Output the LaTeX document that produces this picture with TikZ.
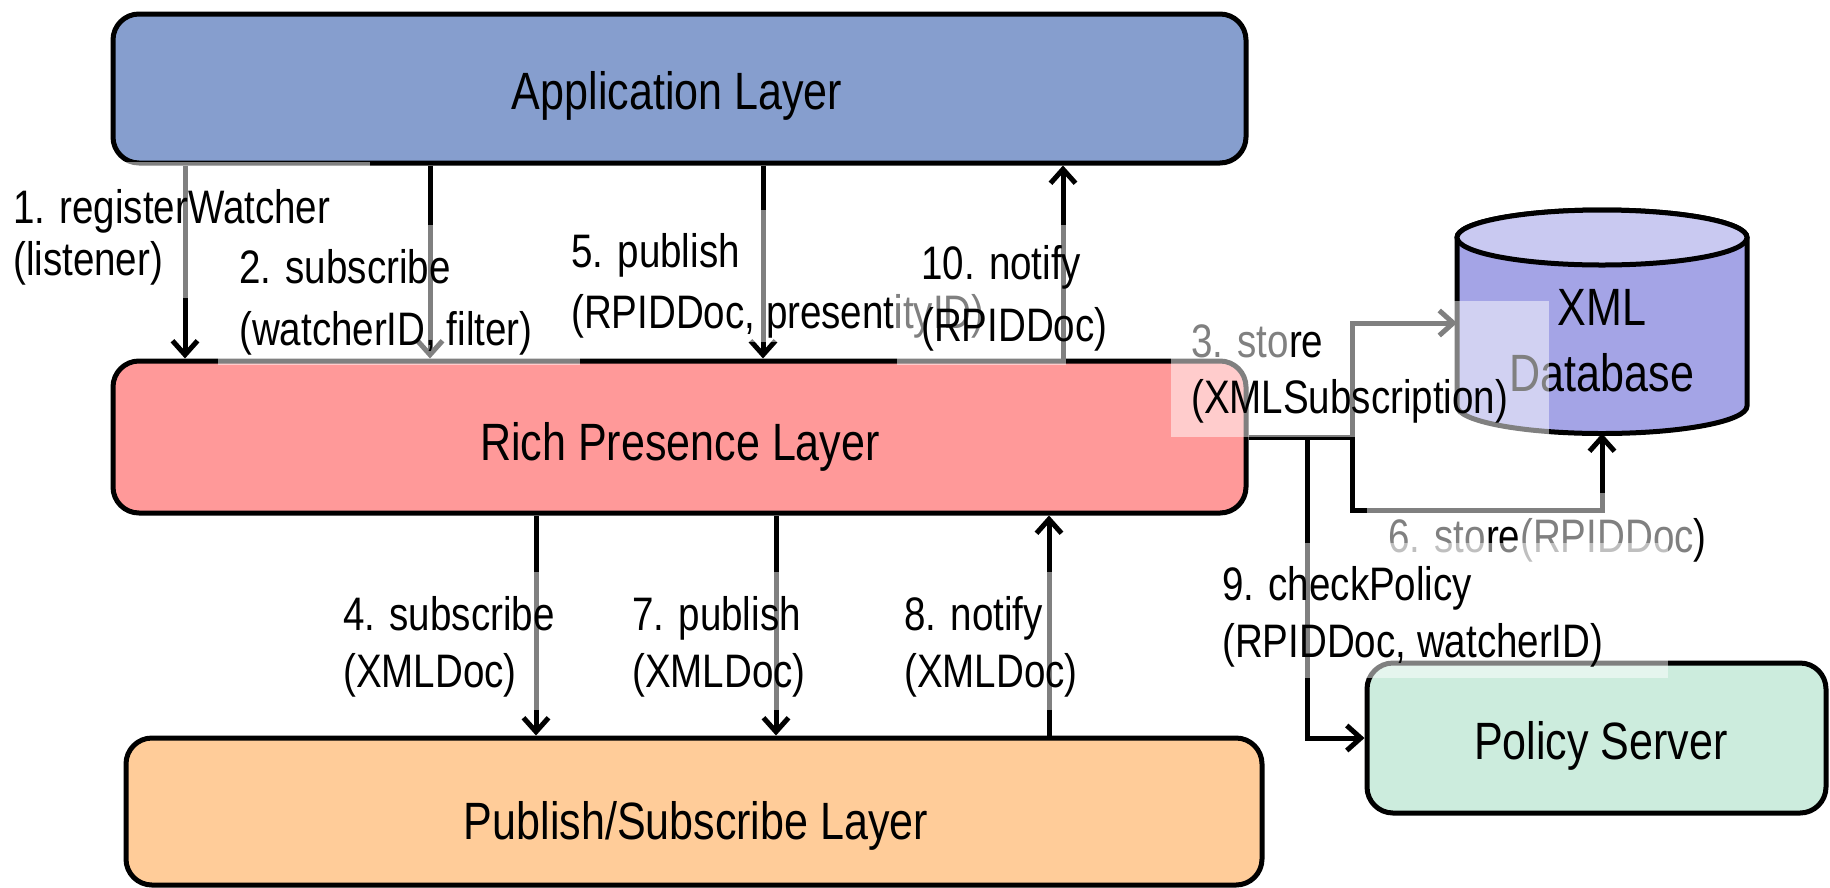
\documentclass[tikz,border=0pt]{standalone}
\usepackage{fontspec}
\setmainfont{Liberation Sans}
\newfontfamily\labfont[FakeStretch=0.82]{Liberation Sans}
\usetikzlibrary{arrows.meta}

\definecolor{appfill}{HTML}{869ECE}
\definecolor{rpfill}{HTML}{FF9999}
\definecolor{psfill}{HTML}{FFCC99}
\definecolor{polfill}{HTML}{CCECDD}
\definecolor{dbbody}{HTML}{A4A4E6}
\definecolor{dbtop}{HTML}{C9C9F1}
\colorlet{faded}{black!50}

\tikzset{
  layer/.style={draw=black, line width=5pt, rounded corners=26pt, inner sep=0pt},
  title/.style={font={\labfont\fontsize{52.5}{52}\selectfont}, anchor=base, inner sep=0pt},
  lab/.style={font={\labfont\fontsize{47}{52}\selectfont}, anchor=base west, inner sep=0pt},
  conn/.style={line width=5pt, draw=black},
  arr/.style={conn, -{Straight Barb[length=14pt,width=25pt]}},
  haze/.style={fill=white, fill opacity=0.5},
}

\begin{document}
\begin{tikzpicture}[x=1pt, y=-1pt]
\useasboundingbox (0,0) rectangle (1830,887);

% --- layers ---
\node[layer, fill=appfill, minimum width=1133pt, minimum height=149pt] (app) at (679.5,88.5) {};
\node[layer, fill=rpfill,  minimum width=1133pt, minimum height=152pt] (rp)  at (679.5,437) {};
\node[layer, fill=psfill,  minimum width=1136pt, minimum height=147pt] (ps)  at (694,811.5) {};
\node[layer, fill=polfill, minimum width=459pt,  minimum height=150pt] (pol) at (1596.5,738) {};

% --- XML database cylinder ---
\fill[dbbody, draw=black, line width=5pt]
  (1457,237.5) -- (1457,406)
  .. controls (1457,421.19) and (1521.92,433.5) .. (1602,433.5)
  .. controls (1682.08,433.5) and (1747,421.19) .. (1747,406)
  -- (1747,237.5)
  .. controls (1747,222.31) and (1682.08,210) .. (1602,210)
  .. controls (1521.92,210) and (1457,222.31) .. (1457,237.5) -- cycle;
\draw[fill=dbtop, line width=5pt] (1602,237.5) ellipse [x radius=145, y radius=27.5];
\node[minimum width=290pt, minimum height=223.5pt, inner sep=0pt, outer sep=0pt] (db) at (1602,321.75) {};

% --- titles ---
\node[title] (appT) at (677,109) {Application Layer};
\node[title] (rpT)  at (680,460) {Rich Presence Layer};
\node[title] (psT)  at (696,839) {Publish/Subscribe Layer};
\node[title] (polT) at (1601,759) {Policy Server};
\node[title] (dbT)  at (1602,325) {\begin{tabular}[t]{@{}c@{}}XML\\[13pt]Database\end{tabular}};

% --- connectors between the application and rich presence layers ---
\coordinate (a1) at (185,0);
\coordinate (a2) at (430,0);
\coordinate (a5) at (763,0);
\coordinate (a10) at (1063,0);
\draw[arr] (app.south -| a1) -- (rp.north -| a1);
\draw[arr] (app.south -| a2) -- (rp.north -| a2);
\draw[arr] (app.south -| a5) -- (rp.north -| a5);
\draw[arr] (rp.north -| a10) -- (app.south -| a10);

% --- connectors between the rich presence and publish/subscribe layers ---
\coordinate (b4) at (536,0);
\coordinate (b7) at (776,0);
\coordinate (b8) at (1049,0);
\draw[arr] (rp.south -| b4) -- (ps.north -| b4);
\draw[arr] (rp.south -| b7) -- (ps.north -| b7);
\draw[arr] (ps.north -| b8) -- (rp.south -| b8);

% --- connectors to the database and the policy server ---
\coordinate (bus) at (1352,437);
\coordinate (j9) at (1307,437);
\coordinate (s3) at (1352,323);
\coordinate (s6) at (1352,510);
\draw[conn] (rp.east) -- (bus);
\draw[arr] (j9) |- (pol.west);
\draw[arr] (bus) -- (s3) -- (db.west |- s3);
\draw[arr] (bus) -- (s6) -| (db.south);

% --- message labels on translucent white backgrounds ---
\fill[haze] (0,162) rectangle (370,298);
\node[lab] (l1) at (13,223) {\begin{tabular}[t]{@{}l@{}}1. registerWatcher\\(listener)\end{tabular}};

\fill[haze] (218,225) rectangle (580,365);
\node[lab] (l2) at (239,283) {\begin{tabular}[t]{@{}l@{}}2. subscribe\\[10pt](watcherID, filter)\end{tabular}};

\fill[haze] (560,210) rectangle (995,342);
\node[lab] (l5) at (571,267) {\begin{tabular}[t]{@{}l@{}}5. publish\\[9pt](RPIDDoc, presentityID)\end{tabular}};

\fill[haze] (897,225) rectangle (1066,365);
\node[lab] (l10) at (921,279) {\begin{tabular}[t]{@{}l@{}}10. notify\\[10pt](RPIDDoc)\end{tabular}};

\fill[haze] (337,572) rectangle (558,710);
\node[lab] (l4) at (343,630) {\begin{tabular}[t]{@{}l@{}}4. subscribe\\[5pt](XMLDoc)\end{tabular}};

\fill[haze] (627,572) rectangle (800,710);
\node[lab] (l7) at (632,630) {\begin{tabular}[t]{@{}l@{}}7. publish\\[5pt](XMLDoc)\end{tabular}};

\fill[haze] (899,572) rectangle (1080,710);
\node[lab] (l8) at (904,630) {\begin{tabular}[t]{@{}l@{}}8. notify\\[5pt](XMLDoc)\end{tabular}};

\fill[haze] (1171,301) rectangle (1549,437);
\node[lab] (l3) at (1191,357) {\begin{tabular}[t]{@{}l@{}}\textcolor{faded}{3. sto}re\\[4pt](XMLSubscription)\end{tabular}};

\fill[haze] (1367,493) rectangle (1710,521);
\node[lab] (l6) at (1388,552) {\textcolor{faded}{6. sto}re\textcolor{faded}{(RPIDDoc})};

\fill[haze] (1215,543) rectangle (1668,678);
\node[lab] (l9) at (1222,600) {\begin{tabular}[t]{@{}l@{}}9. checkPolicy\\[5pt](RPIDDoc, watcherID)\end{tabular}};

\end{tikzpicture}
\end{document}
